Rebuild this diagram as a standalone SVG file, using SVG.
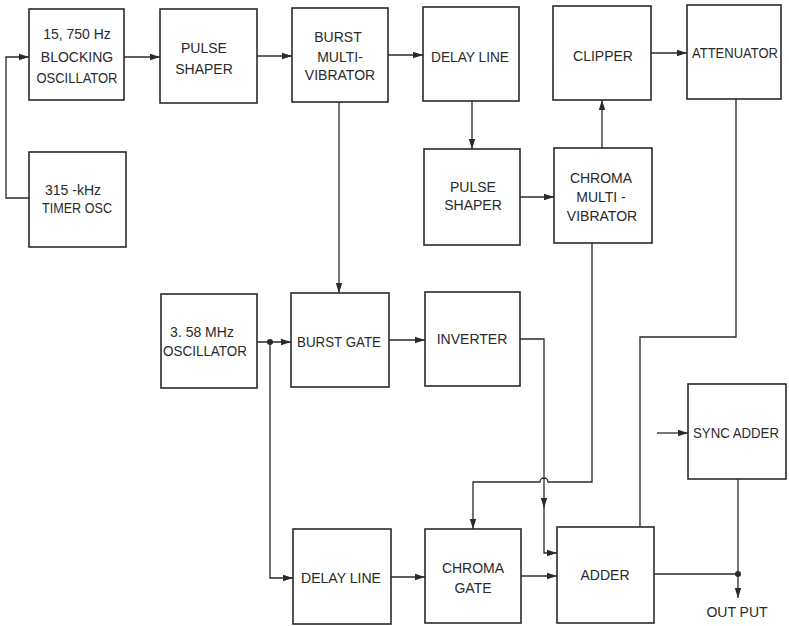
<svg xmlns="http://www.w3.org/2000/svg" width="789" height="626" viewBox="0 0 789 626">
<style>
.box{fill:none;stroke:#2a2a2a;stroke-width:1.6}
.ln{fill:none;stroke:#2a2a2a;stroke-width:1.3}
.arr{marker-end:url(#ah)}
text{font-family:"Liberation Sans",Arial,sans-serif;font-size:14px;fill:#2a2a2a;text-anchor:middle}
</style>
<defs>
<marker id="ah" markerUnits="userSpaceOnUse" markerWidth="12" markerHeight="8" refX="10" refY="4" orient="auto">
<path d="M0,0.8 L10,4 L0,7.2 Z" fill="#2a2a2a"/>
</marker>
</defs>
<rect width="789" height="626" fill="#fff"/>
<g id="connectors">
<path class="ln arr" d="M29,198 H6 V57 H29"/>
<path class="ln arr" d="M124,57 H160"/>
<path class="ln arr" d="M257,56 H292"/>
<path class="ln arr" d="M388,55 H423"/>
<path class="ln arr" d="M651,53 H687"/>
<path class="ln arr" d="M339,102 V293"/>
<path class="ln arr" d="M472,101 V149"/>
<path class="ln arr" d="M520,197 H554"/>
<path class="ln arr" d="M602,148 V100"/>
<path class="ln" d="M736,99 V337 H640 V527"/>
<path class="ln arr" d="M592,243 V482 H548 A4,4 0 0 0 540,482 H473 V529"/>
<path class="ln arr" d="M520,339 H544 V508"/>
<path class="ln arr" d="M544,506 V553 H557"/>
<path class="ln arr" d="M257,342 H291"/>
<circle cx="270" cy="342" r="3" fill="#2a2a2a"/>
<path class="ln arr" d="M270,342 V578 H293"/>
<path class="ln arr" d="M389,340 H425"/>
<path class="ln arr" d="M391,577 H425"/>
<path class="ln arr" d="M521,576 H557"/>
<path class="ln" d="M654,574 H738"/>
<path class="ln arr" d="M738,479 V598"/>
<circle cx="738" cy="574" r="3" fill="#2a2a2a"/>
<path class="ln arr" d="M657,433 H688"/>
</g>
<g id="blocking-osc"><rect class="box" x="29" y="9" width="95" height="91"/><text x="77" y="39">15, 750 Hz</text><text x="77" y="62">BLOCKING</text><text x="77" y="83" textLength="81" lengthAdjust="spacingAndGlyphs">OSCILLATOR</text></g>
<g id="pulse-shaper-1"><rect class="box" x="160" y="9" width="97" height="94"/><text x="204" y="53">PULSE</text><text x="204" y="74">SHAPER</text></g>
<g id="burst-mv"><rect class="box" x="292" y="8" width="96" height="94"/><text x="338" y="42">BURST</text><text x="340" y="62">MULTI-</text><text x="340" y="80">VIBRATOR</text></g>
<g id="delay-line-1"><rect class="box" x="423" y="7" width="96" height="94"/><text x="470" y="62" textLength="78" lengthAdjust="spacingAndGlyphs">DELAY LINE</text></g>
<g id="clipper"><rect class="box" x="553" y="6" width="98" height="94"/><text x="603" y="61">CLIPPER</text></g>
<g id="attenuator"><rect class="box" x="687" y="5" width="94" height="94"/><text x="735" y="58" textLength="86" lengthAdjust="spacingAndGlyphs">ATTENUATOR</text></g>
<g id="timer-osc"><rect class="box" x="29" y="152" width="97" height="95"/><text x="73" y="195">315 -kHz</text><text x="77" y="213" textLength="70" lengthAdjust="spacingAndGlyphs">TIMER OSC</text></g>
<g id="pulse-shaper-2"><rect class="box" x="424" y="149" width="96" height="96"/><text x="473" y="192">PULSE</text><text x="473" y="210">SHAPER</text></g>
<g id="chroma-mv"><rect class="box" x="554" y="148" width="98" height="95"/><text x="601" y="183">CHROMA</text><text x="601" y="202">MULTI -</text><text x="602" y="221">VIBRATOR</text></g>
<g id="osc-358"><rect class="box" x="161" y="294" width="96" height="94"/><text x="202" y="337">3. 58 MHz</text><text x="205" y="356" textLength="84" lengthAdjust="spacingAndGlyphs">OSCILLATOR</text></g>
<g id="burst-gate"><rect class="box" x="291" y="293" width="98" height="94"/><text x="339" y="347" textLength="84" lengthAdjust="spacingAndGlyphs">BURST GATE</text></g>
<g id="inverter"><rect class="box" x="425" y="292" width="95" height="94"/><text x="472" y="344">INVERTER</text></g>
<g id="sync-adder"><rect class="box" x="688" y="384" width="98" height="95"/><text x="736" y="438" textLength="86" lengthAdjust="spacingAndGlyphs">SYNC ADDER</text></g>
<g id="delay-line-2"><rect class="box" x="293" y="529" width="98" height="95"/><text x="341" y="583" textLength="80" lengthAdjust="spacingAndGlyphs">DELAY LINE</text></g>
<g id="chroma-gate"><rect class="box" x="425" y="529" width="96" height="94"/><text x="473" y="573">CHROMA</text><text x="473" y="593">GATE</text></g>
<g id="adder"><rect class="box" x="557" y="527" width="97" height="96"/><text x="605" y="580">ADDER</text></g>
<g id="output"><text x="737" y="617">OUT PUT</text></g>
</svg>
